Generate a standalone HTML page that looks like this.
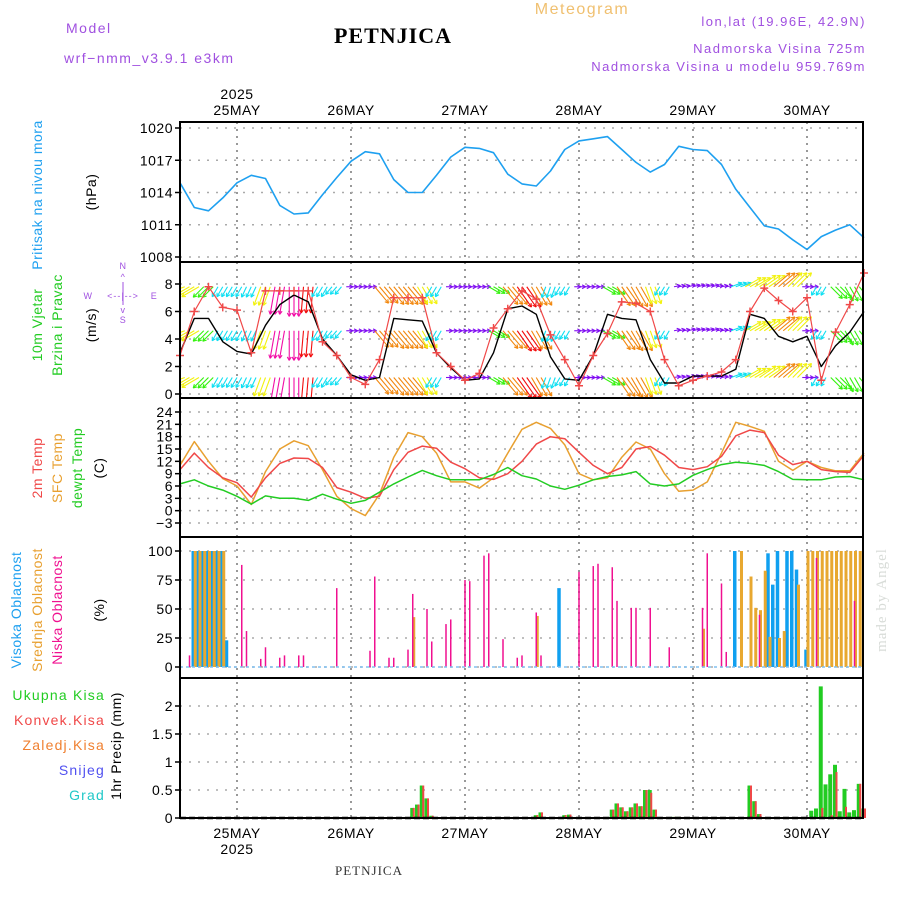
<!DOCTYPE html>
<html><head><meta charset="utf-8"><style>
html,body{margin:0;padding:0;background:#fff;}
svg{display:block;font-family:"Liberation Sans",sans-serif;}
</style></head><body>
<svg id="chart" width="900" height="900" viewBox="0 0 900 900" xmlns="http://www.w3.org/2000/svg">
<defs><clipPath id="windclip"><rect x="180" y="263" width="683" height="134"/></clipPath></defs>
<g font-size="14" letter-spacing="1.5">
<text x="66" y="33" fill="#a050e0">Model</text>
<text x="64" y="63" fill="#a050e0">wrf−nmm_v3.9.1  e3km</text>
<text x="393" y="43" text-anchor="middle" font-family="Liberation Serif,serif" font-weight="bold" font-size="22" letter-spacing="1" fill="#000">PETNJICA</text>
<text x="582" y="14" text-anchor="middle" font-size="16" fill="#f0c070">Meteogram</text>
<text x="866" y="26" text-anchor="end" font-size="13" fill="#a050e0">lon,lat (19.96E, 42.9N)</text>
<text x="866" y="53" text-anchor="end" font-size="13" fill="#a050e0">Nadmorska Visina 725m</text>
<text x="866" y="71" text-anchor="end" font-size="13" fill="#a050e0">Nadmorska Visina u modelu 959.769m</text>
<text x="369" y="875" text-anchor="middle" font-family="Liberation Serif,serif" font-size="13" letter-spacing="1" fill="#333">PETNJICA</text>
<text transform="translate(886,600) rotate(-90)" text-anchor="middle" font-family="Liberation Serif,serif" font-size="15" letter-spacing="1" fill="#d8dcd8">made by Angel</text>
</g>
<g font-size="14" letter-spacing="0.5">
<text transform="translate(42,195) rotate(-90)" text-anchor="middle" fill="#1ea0f0">Pritisak na nivou mora</text>
<text transform="translate(96,192) rotate(-90)" text-anchor="middle" fill="#000">(hPa)</text>
<text transform="translate(42,325) rotate(-90)" text-anchor="middle" fill="#22cc22">10m Vjetar</text>
<text transform="translate(62,325) rotate(-90)" text-anchor="middle" fill="#22cc22">Brzina i Pravac</text>
<text transform="translate(96,325) rotate(-90)" text-anchor="middle" fill="#000">(m/s)</text>
<g font-size="9" fill="#a050e0">
<text x="123" y="269" text-anchor="middle">N</text>
<text x="123" y="280" text-anchor="middle">^</text>
<text x="123" y="323" text-anchor="middle">S</text>
<text x="123" y="313" text-anchor="middle">v</text>
<text x="88" y="299" text-anchor="middle">W</text>
<text x="154" y="299" text-anchor="middle">E</text>
<text x="123" y="299" text-anchor="middle" letter-spacing="1">&lt;--|--&gt;</text>
<line x1="123" y1="282" x2="123" y2="305" stroke="#a050e0" stroke-width="1"/>
</g>
<text transform="translate(42,468) rotate(-90)" text-anchor="middle" fill="#f04848">2m Temp</text>
<text transform="translate(62,468) rotate(-90)" text-anchor="middle" fill="#e8a030">SFC Temp</text>
<text transform="translate(82,468) rotate(-90)" text-anchor="middle" fill="#22cc22">dewpt Temp</text>
<text transform="translate(104,468) rotate(-90)" text-anchor="middle" fill="#000">(C)</text>
<text transform="translate(21,610) rotate(-90)" text-anchor="middle" fill="#1ea0f0">Visoka Oblacnost</text>
<text transform="translate(42,610) rotate(-90)" text-anchor="middle" fill="#e8a030">Srednja Oblacnost</text>
<text transform="translate(62,610) rotate(-90)" text-anchor="middle" fill="#f01090">Niska Oblacnost</text>
<text transform="translate(104,610) rotate(-90)" text-anchor="middle" fill="#000">(%)</text>
<text transform="translate(121,746) rotate(-90)" text-anchor="middle" fill="#000">1hr Precip (mm)</text>
<text x="105" y="700" text-anchor="end" fill="#22cc22" letter-spacing="1.2">Ukupna Kisa</text>
<text x="105" y="725" text-anchor="end" fill="#f04848" letter-spacing="1.2">Konvek.Kisa</text>
<text x="105" y="750" text-anchor="end" fill="#f08030" letter-spacing="1.2">Zaledj.Kisa</text>
<text x="105" y="775" text-anchor="end" fill="#5050f0" letter-spacing="1.2">Snijeg</text>
<text x="105" y="800" text-anchor="end" fill="#20c8c8" letter-spacing="1.2">Grad</text>
</g>
<g id="plot"></g>
</svg>
<script>
// ---- data (3-hourly, from 24 May 12:00) ----
const dayLabels = ["25MAY","26MAY","27MAY","28MAY","29MAY","30MAY"];
const pressure = [1014.9,1012.6,1012.3,1013.5,1014.9,1015.6,1015.3,1012.8,1012.0,1012.1,1013.8,1015.4,1016.9,1017.8,1017.6,1015.2,1014.0,1014.0,1015.6,1017.3,1018.2,1018.1,1017.7,1015.7,1014.8,1014.6,1016.0,1018.0,1018.8,1019.0,1019.2,1018.0,1016.8,1015.9,1016.6,1018.3,1018.0,1017.9,1016.6,1014.3,1012.6,1010.9,1010.6,1009.6,1008.7,1009.9,1010.5,1011.0,1009.8];
const windSpeed = [3,5.5,5.5,3.8,3.1,2.9,5,6.5,7.2,6.7,4,2.8,1.4,1,1.2,5.5,5.4,5.3,3,1.9,1,1.1,3,6.2,6.4,5.8,2.7,1.1,1,2.8,5.8,5.5,5.4,2.5,0.8,0.8,1.3,1.3,1.3,1.8,5.8,5.5,4.2,3.8,4.2,2,3.5,4.5,6];
const windGust = [2.8,6,7.8,6.3,6.1,3,7.5,7.5,7.5,7.5,3.8,2.8,1.2,0.7,2.5,7,7,7,3,2,1,1.5,4.8,6.2,7.5,6.9,4.3,2.5,0.6,2.8,4.4,6.7,6.6,6.0,2.5,0.6,1,1.3,1.6,2.5,6,7.7,6.8,6,7,1,4.5,6.5,8.8];
const windDir = [70,60,45,30,30,25,20,10,0,5,30,40,270,270,320,320,320,330,30,270,270,270,300,320,325,330,20,30,270,270,300,325,330,340,30,260,255,255,260,250,240,235,230,225,270,30,315,330,320];
const windArrowSpd = [6,6,4.5,3.5,3.5,3.5,6,8.5,9,8,3.5,3,2,2,6.5,7,7,6,3.5,2,2,2,4,7,7.5,6.5,3.5,3,2,2,4.5,7,7,5.5,3,2,2.2,2.2,2,3.5,5.5,6,6.5,6,2,3,5,5,5];
const temp2m = [10,14,10.5,8,6.8,3.3,8,11.5,12.8,12.7,10.5,5.6,4.5,3,3.5,10,14.2,15.7,15.2,11.8,10.2,8,7.6,9,12,16.2,18,17.5,14.2,11,9,10.5,15,15.6,13.5,10.5,10,10.7,13.2,18.2,19.6,19,13.5,11.2,12,10,9.5,9.3,13.5];
const tempSfc = [11,16.8,12,7.8,6,1.5,9.5,15,17,15.8,10,3.5,0.5,-1.2,4,13,19,18,14,7,7,5.5,8,14,19.8,21.5,20,16,9,7.5,8,13,16.7,15,9,4.7,5,7,14,21.5,20.5,19.3,12,9.8,12,10.5,9.7,9.7,14];
const tempDew = [6.5,7.5,6,5,3.5,1.6,3.6,3,3,2.5,4,2.8,1.8,2.5,4.5,6.5,8.2,9.8,8.5,7.5,7.5,7.5,8.8,10.5,8.5,7.7,6,5.2,6.2,7.5,8.3,8.7,9.5,6.5,6,6.5,8.6,10,11.2,11.8,11.5,11,9.5,7.6,7.5,7.5,8.2,8.3,7.5];
// cloud cover (hour, %)
const highHours = [3,4,5,6,7,8,9,10,80,117,124,125,126,128,129,130,132];
const highVals  = [100,100,100,100,100,100,100,23,68,100,98,71,100,100,100,84,15];
const midHours = [3,4,5,6,7,8,9,49,75,110,118,120,121,122,123,124,126,127,130,132,133,134,135,136,137,138,139,140,141,142,143];
const midVals  = [100,100,100,100,100,100,100,43,44,33,100,78,51,49,83,26,25,31,71,100,100,100,100,100,100,100,100,100,100,100,100];
const lowHours = [2,13,14,17,18,21,22,25,26,33,40,41,44,45,48,49,52,53,56,57,60,61,64,65,68,71,72,75,76,84,87,88,91,92,95,96,99,103,110,111,114,115,122,134,142];
const lowVals  = [10,88,31,7,17,8,10,10,10,68,14,78,8,8,15,63,50,22,37,41,75,74,96,98,24,8,10,47,10,82,87,89,86,57,51,51,51,17,51,98,72,13,45,94,57];
// precipitation (hour, mm)
const precipHours = [49,50,51,52,53,75,76,81,82,91,92,93,94,95,96,97,98,99,100,104,105,120,121,122,133,134,135,136,137,138,139,140,141,142,143,144];
const precipTotal = [.18,.24,.58,.35,.04,.05,.1,.05,.06,.15,.26,.19,.12,.19,.26,.21,.5,.5,.15,.02,.02,.58,.3,.07,.13,.17,2.35,.6,.78,.95,.12,.52,.1,.14,.61,.17];
const precipConv  = [.18,.24,.58,.35,.04,.05,.1,.05,.06,.15,.26,.19,.12,.19,.26,.21,.5,.45,.15,.02,.02,.58,.3,.07,0,0,.18,0,.05,.82,0,.2,0,0,.61,.17];
const pTicks=[1008,1011,1014,1017,1020], wTicks=[0,2,4,6,8], tTicks=[-3,0,3,6,9,12,15,18,21,24], cTicks=[0,25,50,75,100], prTicks=[0,0.5,1,1.5,2];
const prTickLabels=["0","0.5","1","1.5","2"];

const NS="http://www.w3.org/2000/svg";
const X0=180,X1=863,PXH=4.75;
const xH=h=>X0+h*PXH;
const lin=(v0,y0,v1,y1)=>v=>y0+(v-v0)*(y1-y0)/(v1-v0);
const yP=lin(1008,257,1020,128), yW=lin(0,394,8,284), yT=lin(-3,523,24,412), yC=lin(0,667,100,551), yPr=lin(0,818,2,706);
const panels=[[122,262],[262,398],[398,537],[537,678],[678,818]];
const plot=document.getElementById('plot');
function mk(tag,attrs,parent){const e=document.createElementNS(NS,tag);for(const k in attrs)e.setAttribute(k,attrs[k]);(parent||plot).appendChild(e);return e;}
function grp(name){const g=mk('g',{});return g;}

function yAxis(name,ticks,fy,labels){
  const g=grp(name);
  ticks.forEach((t,i)=>{
    const y=fy(t);
    const l=mk('line',{x1:X0,x2:X1,y1:y,y2:y,stroke:'#aaa','stroke-width':1.5,'stroke-dasharray':'2,7'},g);
    
    mk('line',{x1:X0-5,x2:X0,y1:y,y2:y,stroke:'#000','stroke-width':1.5},g);
    const tx=mk('text',{x:X0-7,y:y+5,'text-anchor':'end','font-size':14,fill:'#000','letter-spacing':0.5},g);
    tx.textContent=labels?labels[i]:String(t).replace('-','−');
    
  });
}
const vg=grp('day-grid');
dayLabels.forEach((d,i)=>{const x=xH(12+24*i);
  const l=mk('line',{x1:x,x2:x,y1:122,y2:818,stroke:'#999','stroke-width':2,'stroke-dasharray':'2,5'},vg);
  
  const t=mk('text',{x:x,y:115,'text-anchor':'middle','font-size':14,'letter-spacing':0.5},vg);t.textContent=d;
  
  const b=mk('text',{x:x,y:838,'text-anchor':'middle','font-size':14,'letter-spacing':0.5},vg);b.textContent=d;
  
});
{const t=mk('text',{x:xH(12),y:99,'text-anchor':'middle','font-size':14,'letter-spacing':0.5},vg);t.textContent='2025';
 
 const b=mk('text',{x:xH(12),y:854,'text-anchor':'middle','font-size':14,'letter-spacing':0.5},vg);b.textContent='2025';
 }
yAxis('pressure-y-axis',pTicks,yP,null);
yAxis('wind-y-axis',wTicks,yW,null);
yAxis('temp-y-axis',tTicks,yT,null);
yAxis('cloud-y-axis',cTicks,yC,null);
yAxis('precip-y-axis',prTicks,yPr,prTickLabels);

function line(name,arr,fy,color,w,parent){
  const d=arr.map((v,i)=>(i?'L':'M')+xH(i*3).toFixed(1)+','+fy(v).toFixed(1)).join('');
  const p=mk('path',{d:d,fill:'none',stroke:color,'stroke-width':w||1.5,'stroke-linejoin':'round'},parent);
  return p;
}
line('pressure-line',pressure,yP,'#1ea0f0',1.6);

const wg=grp('wind-arrows');
wg.setAttribute('clip-path','url(#windclip)');
const rowVals=[7.8,4.6,1.2];
function arrowColor(s){const h=s<2.5?270:s<4?185:s<5.5?110:s<6.5?60:s<7.5?32:s<8.5?0:320;return 'hsl('+h+',90%,50%)';}
rowVals.forEach(rv=>{
  windDir.forEach((dir,i)=>{
    const s=windArrowSpd[i], len=s*3.3;
    const a=(dir+180)*Math.PI/180;
    const dx=Math.sin(a)*len, dy=-Math.cos(a)*len;
    const c=arrowColor(s);
    [-1,0,1].forEach(o=>{
      const x0=xH(i*3+o), y0=yW(rv), x1=x0+dx, y1=y0+dy;
      const ag=mk('g',{stroke:c,'stroke-width':1.1,fill:'none'},wg);
      
      mk('line',{x1:x0,y1:y0,x2:x1,y2:y1},ag);
      const ang=Math.atan2(dy,dx);
      [0.5,-0.5].forEach(q=>mk('line',{x1:x1,y1:y1,x2:x1-4*Math.cos(ang+q),y2:y1-4*Math.sin(ang+q)},ag));
    });
  });
});
line('wind-speed-line',windSpeed,yW,'#000',1.4);
line('wind-gust-line',windGust,yW,'#f04848',1.2);
const gg=grp('wind-gust-markers');
windGust.forEach((v,i)=>{const x=xH(i*3),y=yW(v);
  const p=mk('path',{d:`M${x-4},${y}H${x+4}M${x},${y-4}V${y+4}`,stroke:'#f04848','stroke-width':1.4},gg);
  });

line('sfc-temp-line',tempSfc,yT,'#e8a030',1.5);
line('temp-2m-line',temp2m,yT,'#f04848',1.5);
line('dewpt-line',tempDew,yT,'#22cc22',1.5);

const cg=grp('cloud-bars');
function bars(hours,vals,color,w,off,name){hours.forEach((h,i)=>{const x=xH(h)+off,y=yC(vals[i]);
  const r=mk('rect',{x:x-w/2,y:y,width:w,height:yC(0)-y,fill:color},cg);
  });}
bars(highHours,highVals,'#10a0f0',3.5,-1,'high-cloud-bar');
bars(midHours,midVals,'#e8a830',3,1,'mid-cloud-bar');
bars(lowHours,lowVals,'#f01090',1.5,0,'low-cloud-bar');
{const l=mk('line',{x1:X0,x2:X1,y1:yC(0),y2:yC(0),stroke:'#80c0f0','stroke-width':1.5,'stroke-dasharray':'3,3'},cg);
 }

const pg=grp('precip-bars');
precipHours.forEach((h,i)=>{const x=xH(h);
  const y=yPr(precipTotal[i]);
  const r=mk('rect',{x:x-2.5,y:y,width:4,height:yPr(0)-y,fill:'#22cc22'},pg);
  
  if(precipConv[i]>0){const yc=yPr(precipConv[i]);
    const c=mk('rect',{x:x,y:yc,width:2,height:yPr(0)-yc,fill:'#f04848'},pg);
    }
});

const fg=grp('panel-frames');
panels.forEach(([t,b])=>{const r=mk('rect',{x:X0,y:t,width:X1-X0,height:b-t,fill:'none',stroke:'#000','stroke-width':2},fg);
  });
{const l=mk('line',{x1:X0,x2:X1,y1:818,y2:818,stroke:'#000','stroke-width':2.5,'stroke-dasharray':'6,3'},fg);
 }
</script>
</body></html>
